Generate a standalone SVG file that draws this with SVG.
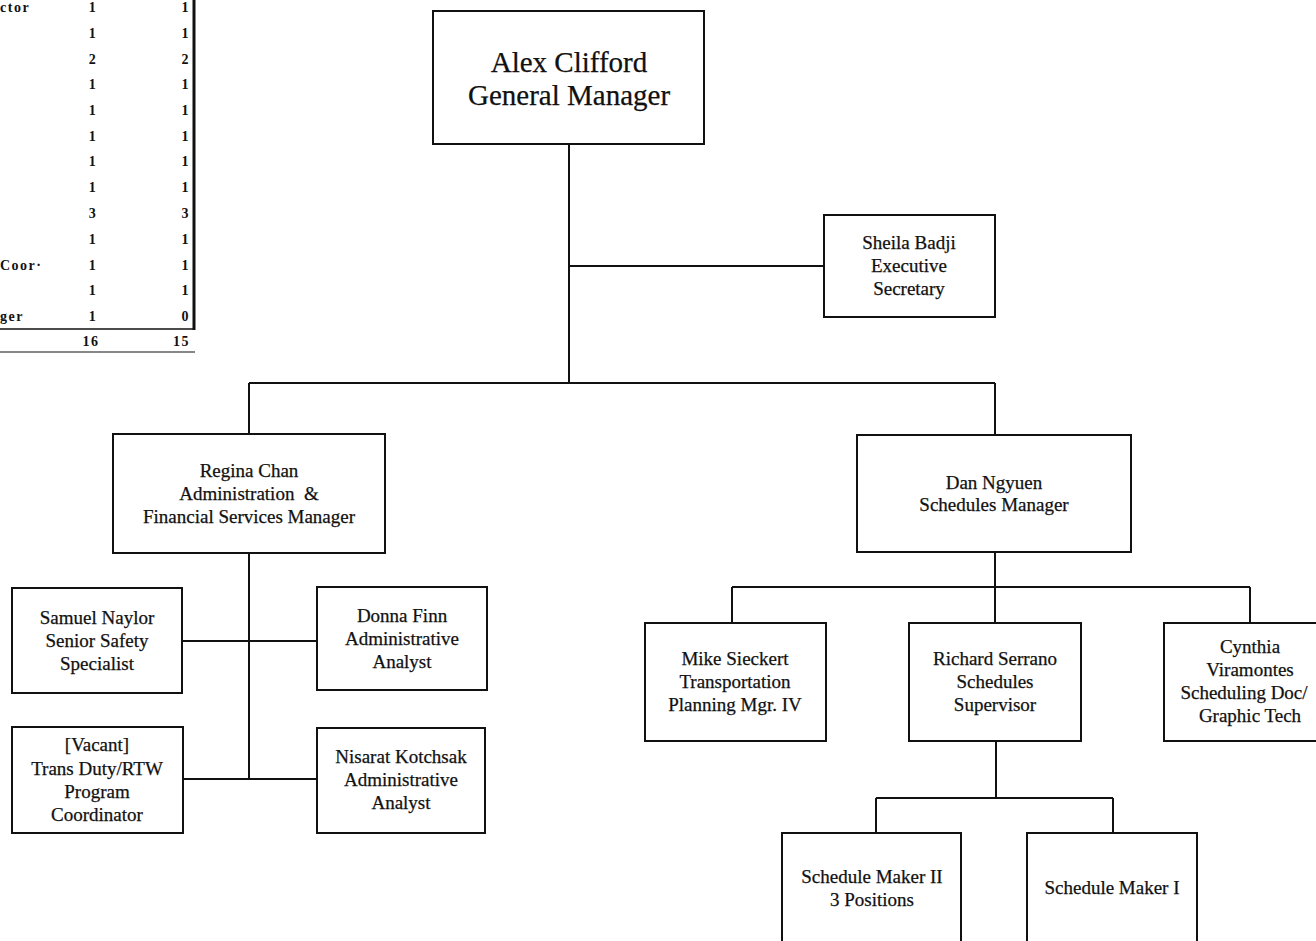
<svg xmlns="http://www.w3.org/2000/svg" width="1316" height="941" viewBox="0 0 1316 941">
<style>
.box{fill:#fff;stroke:#111;stroke-width:2}
.ln{fill:none;stroke:#111;stroke-width:2}
.t{font-family:"Liberation Serif","Times New Roman",serif;font-size:19px;fill:#111;stroke:#111;stroke-width:0.25;text-anchor:middle;white-space:pre}
.big{font-size:29px}
.tb{font-family:"Liberation Serif","Times New Roman",serif;font-size:14px;font-weight:bold;fill:#111;letter-spacing:1.5px}
.num{text-anchor:middle}
.numr{text-anchor:end}
</style>
<rect width="1316" height="941" fill="#fff"/>
<g id="table">
<text class="tb" x="0" y="12">ctor</text>
<text class="tb" x="0" y="270">Coor·</text>
<text class="tb" x="0" y="321">ger</text>
<g class="tb num">
<text x="93" y="12">1</text><text x="93" y="38">1</text><text x="93" y="64">2</text><text x="93" y="89">1</text><text x="93" y="115">1</text><text x="93" y="141">1</text><text x="93" y="166">1</text><text x="93" y="192">1</text><text x="93" y="218">3</text><text x="93" y="244">1</text><text x="93" y="270">1</text><text x="93" y="295">1</text><text x="93" y="321">1</text><text x="91" y="346">16</text>
</g>
<g class="tb numr">
<text x="190" y="12">1</text><text x="190" y="38">1</text><text x="190" y="64">2</text><text x="190" y="89">1</text><text x="190" y="115">1</text><text x="190" y="141">1</text><text x="190" y="166">1</text><text x="190" y="192">1</text><text x="190" y="218">3</text><text x="190" y="244">1</text><text x="190" y="270">1</text><text x="190" y="295">1</text><text x="190" y="321">0</text><text x="190" y="346">15</text>
</g>
<line x1="194" y1="0" x2="194" y2="330" stroke="#111" stroke-width="3"/>
<line x1="0" y1="329" x2="195" y2="329" stroke="#111" stroke-width="1.5"/>
<line x1="0" y1="352" x2="195" y2="352" stroke="#111" stroke-width="1.2"/>
</g>
<g id="connectors">
<path class="ln" d="M569 144V383M569 266H824M249 383H995M249 383V434M995 383V435"/>
<path class="ln" d="M249 553V779M182 641H317M183 779H317"/>
<path class="ln" d="M995 552V623M732 587H1250M732 587V623M1250 587V623"/>
<path class="ln" d="M996 741V798M876 798H1113M876 798V833M1113 798V833"/>
</g>
<g id="alex"><rect class="box" x="433" y="11" width="271" height="133"/>
<text class="t big" x="569" y="72">Alex Clifford</text><text class="t big" x="569" y="105">General Manager</text></g>
<g id="sheila"><rect class="box" x="824" y="215" width="171" height="102"/>
<text class="t" x="909" y="249">Sheila Badji</text><text class="t" x="909" y="272">Executive</text><text class="t" x="909" y="295">Secretary</text></g>
<g id="regina"><rect class="box" x="113" y="434" width="272" height="119"/>
<text class="t" x="249" y="477">Regina Chan</text><text class="t" x="249" y="500">Administration  &amp;</text><text class="t" x="249" y="523">Financial Services Manager</text></g>
<g id="samuel"><rect class="box" x="12" y="588" width="170" height="105"/>
<text class="t" x="97" y="624">Samuel Naylor</text><text class="t" x="97" y="647">Senior Safety</text><text class="t" x="97" y="670">Specialist</text></g>
<g id="donna"><rect class="box" x="317" y="587" width="170" height="103"/>
<text class="t" x="402" y="622">Donna Finn</text><text class="t" x="402" y="645">Administrative</text><text class="t" x="402" y="668">Analyst</text></g>
<g id="vacant"><rect class="box" x="12" y="727" width="171" height="106"/>
<text class="t" x="97" y="751">[Vacant]</text><text class="t" x="97" y="775">Trans Duty/RTW</text><text class="t" x="97" y="798">Program</text><text class="t" x="97" y="821">Coordinator</text></g>
<g id="nisarat"><rect class="box" x="317" y="728" width="168" height="105"/>
<text class="t" x="401" y="763">Nisarat Kotchsak</text><text class="t" x="401" y="786">Administrative</text><text class="t" x="401" y="809">Analyst</text></g>
<g id="dan"><rect class="box" x="857" y="435" width="274" height="117"/>
<text class="t" x="994" y="489">Dan Ngyuen</text><text class="t" x="994" y="511">Schedules Manager</text></g>
<g id="mike"><rect class="box" x="645" y="623" width="181" height="118"/>
<text class="t" x="735" y="665">Mike Sieckert</text><text class="t" x="735" y="688">Transportation</text><text class="t" x="735" y="711">Planning Mgr. IV</text></g>
<g id="richard"><rect class="box" x="909" y="623" width="172" height="118"/>
<text class="t" x="995" y="665">Richard Serrano</text><text class="t" x="995" y="688">Schedules</text><text class="t" x="995" y="711">Supervisor</text></g>
<g id="cynthia"><rect class="box" x="1164" y="623" width="160" height="118"/>
<text class="t" x="1250" y="653">Cynthia</text><text class="t" x="1250" y="676">Viramontes</text><text class="t" x="1244" y="699">Scheduling Doc/</text><text class="t" x="1250" y="722">Graphic Tech</text></g>
<g id="maker2"><rect class="box" x="782" y="833" width="179" height="120"/>
<text class="t" x="872" y="883">Schedule Maker II</text><text class="t" x="872" y="906">3 Positions</text></g>
<g id="maker1"><rect class="box" x="1027" y="833" width="170" height="120"/>
<text class="t" x="1112" y="894">Schedule Maker I</text></g>
</svg>
